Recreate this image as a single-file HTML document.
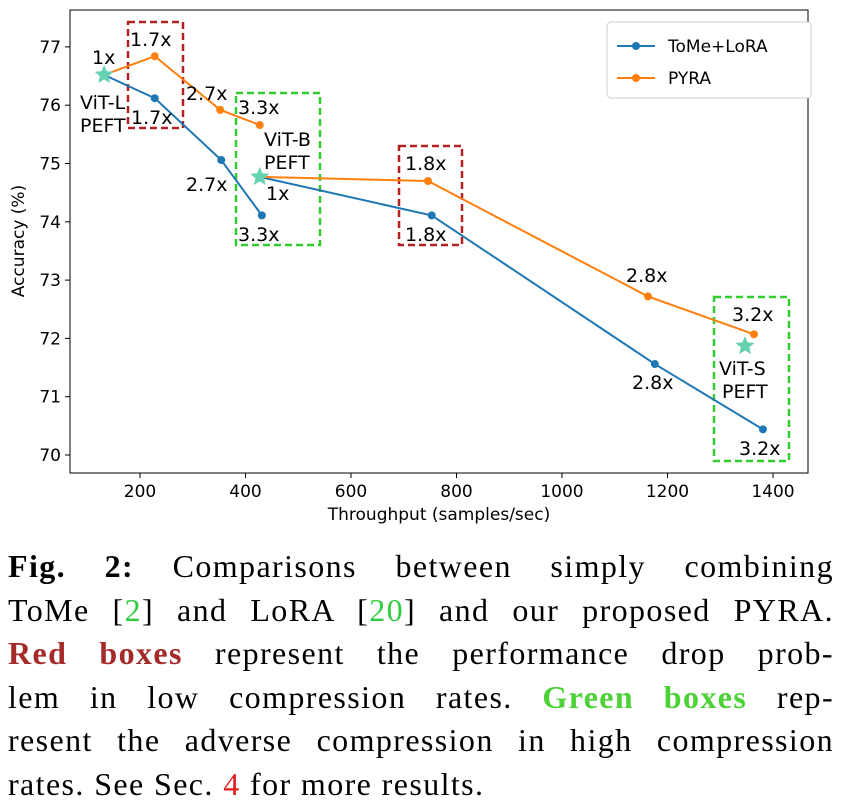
<!DOCTYPE html>
<html><head><meta charset="utf-8"><style>
body{margin:0;background:#fff;width:842px;height:807px;overflow:hidden}
svg text{font-family:"DejaVu Sans","Liberation Sans",sans-serif}
#cap{position:absolute;left:8px;top:545px;width:826px;font-family:"Liberation Serif",serif;font-size:32px;line-height:43.5px;color:#000;letter-spacing:1.4px}
#cap .l{display:block;text-align:justify;text-align-last:justify;white-space:nowrap}
#cap .last{text-align-last:left}
</style></head><body>
<svg id="chart" width="842" height="530" style="position:absolute;left:0;top:0"></svg>
<div id="cap">
<span class="l"><b>Fig.&nbsp;2:</b> Comparisons between simply combining</span>
<span class="l">ToMe [<span style="color:#2ecc40">2</span>] and LoRA [<span style="color:#2ecc40">20</span>] and our proposed PYRA.</span>
<span class="l"><b style="color:#a52a2a">Red boxes</b> represent the performance drop prob-</span>
<span class="l">lem in low compression rates. <b style="color:#4cd137">Green boxes</b> rep-</span>
<span class="l">resent the adverse compression in high compression</span>
<span class="l last">rates. See Sec. <span style="color:#e02020">4</span> for more results.</span>
</div>
<script>
const xTicks=[200,400,600,800,1000,1200,1400];
const yTicks=[70,71,72,73,74,75,76,77];
const tomeX1=[132,228,354,431], tomeY1=[76.52,76.12,75.06,74.11];
const tomeX2=[427,753,1176,1381], tomeY2=[74.77,74.11,71.56,70.44];
const pyraX1=[132,228,352,427], pyraY1=[76.52,76.84,75.92,75.66];
const pyraX2=[427,746,1163,1364], pyraY2=[74.77,74.70,72.72,72.07];
const starX=[132,427,1347], starY=[76.52,74.77,71.87];
const X=v=>140+(v-200)*105.5/200, Y=v=>455-(v-70)*58.3;
const s=document.getElementById('chart'),NS='http://www.w3.org/2000/svg';
function mk(t,a,txt){const e=document.createElementNS(NS,t);for(const k in a)e.setAttribute(k,a[k]);if(txt!=null)e.textContent=txt;s.appendChild(e);return e;}
let e=mk('rect',{x:70,y:10,width:738,height:463,fill:'none',stroke:'#000','stroke-width':1});

xTicks.forEach(t=>{mk('line',{x1:X(t),x2:X(t),y1:473,y2:478,stroke:'#000'});
 e=mk('text',{x:X(t),y:497,'font-size':17,'text-anchor':'middle'},t);
 });
yTicks.forEach(t=>{mk('line',{x1:65,x2:70,y1:Y(t),y2:Y(t),stroke:'#000'});
 e=mk('text',{x:61,y:Y(t)+6,'font-size':17,'text-anchor':'end'},t);
 });
e=mk('text',{x:439,y:520,'font-size':17,'text-anchor':'middle'},'Throughput (samples/sec)');

e=mk('text',{x:0,y:0,'font-size':17,'text-anchor':'middle',transform:'translate(24,241) rotate(-90)'},'Accuracy (%)');

[[128,22,55,106,'#b22222'],[236,93,84,152,'#33cc33'],[399,146,63,99,'#b22222'],[714,297,75,164,'#33cc33']].forEach(b=>{
 e=mk('rect',{x:b[0],y:b[1],width:b[2],height:b[3],fill:'none',stroke:b[4],'stroke-width':2.5,'stroke-dasharray':'7,4'});
 });
function series(xs,ys,c,n){
 e=mk('polyline',{points:xs.map((x,i)=>X(x)+','+Y(ys[i])).join(' '),fill:'none',stroke:c,'stroke-width':2});
 
 xs.forEach((x,i)=>{if(i==0)return;e=mk('circle',{cx:X(x),cy:Y(ys[i]),r:4,fill:c});
 });}
series(tomeX1,tomeY1,'#1f77b4','tome-lora');series(tomeX2,tomeY2,'#1f77b4','tome-lora');
series(pyraX1,pyraY1,'#ff7f0e','pyra');series(pyraX2,pyraY2,'#ff7f0e','pyra');
function star(cx,cy,r){let p=[];for(let i=0;i<10;i++){const a=-Math.PI/2+i*Math.PI/5,rr=i%2?r*0.45:r;p.push((cx+rr*Math.cos(a))+','+(cy+rr*Math.sin(a)));}return p.join(' ');}
starX.forEach((x,i)=>{e=mk('polygon',{points:star(X(x),Y(starY[i]),10),fill:'#66d1b0'});
 });
[['1x',92,64],['ViT-L',80,109],['PEFT',80,132],['1.7x',130,46],['1.7x',131,124],['2.7x',186,100],['2.7x',186,191],['3.3x',238,114],['3.3x',238,241],['ViT-B',264,146],['PEFT',264,169],['1x',266,200],['1.8x',405,170],['1.8x',405,241],['2.8x',626,282],['2.8x',632,389],['3.2x',732,321],['ViT-S',719,375],['PEFT',722,398],['3.2x',739,455]].forEach(l=>{
 e=mk('text',{x:l[1],y:l[2],'font-size':19},l[0]);});
e=mk('rect',{x:607,y:22,width:204,height:76,rx:4,fill:'#fff',stroke:'#ccc'});

[['ToMe+LoRA','#1f77b4',46],['PYRA','#ff7f0e',78]].forEach(l=>{
 mk('line',{x1:617,x2:655,y1:l[2],y2:l[2],stroke:l[1],'stroke-width':2});mk('circle',{cx:636,cy:l[2],r:4,fill:l[1]});
 e=mk('text',{x:668,y:l[2]+6,'font-size':17},l[0]);});
</script>
</body></html>
